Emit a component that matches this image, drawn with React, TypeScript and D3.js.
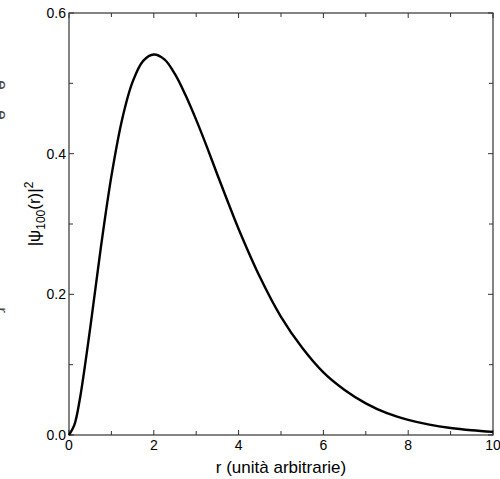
import * as d3 from 'd3';
import React, { useEffect, useRef } from 'react';

// valori
const rValues = [0, 0.125, 0.25, 0.5, 0.75, 1, 1.25, 1.5, 1.75, 2, 2.25, 2.5, 2.75, 3, 3.25, 3.5, 3.75, 4, 4.5, 5, 5.5, 6, 6.5, 7, 7.5, 8, 8.5, 9, 9.5, 10];
const psiValues = [0, 0.014, 0.049, 0.152, 0.266, 0.368, 0.448, 0.502, 0.532, 0.541, 0.534, 0.513, 0.483, 0.448, 0.41, 0.37, 0.331, 0.293, 0.225, 0.168, 0.124, 0.089, 0.064, 0.045, 0.031, 0.0215, 0.0147, 0.01, 0.0068, 0.0045];
const xTicks = [0, 2, 4, 6, 8, 10];
const yTicks = [0, 0.2, 0.4, 0.6];

export default function App() {
  const svgRef = useRef<SVGSVGElement>(null);
  const width = 500;
  const height = 479;
  const left = 69;
  const right = 493;
  const top = 13;
  const bottom = 435;

  useEffect(() => {
    const svg = d3.select(svgRef.current);
    svg.selectAll('*').remove();

    const x = d3.scaleLinear().domain([0, 10]).range([left, right]);
    const y = d3.scaleLinear().domain([0, 0.6]).range([bottom, top]);
    const font = 'Liberation Sans, Arial, Helvetica, sans-serif';
    const axisColor = '#333';

    // cornice
    svg
      .append('rect')
      .attr('x', left)
      .attr('y', top)
      .attr('width', right - left)
      .attr('height', bottom - top)
      .attr('fill', 'none')
      .attr('stroke', axisColor)
      .attr('stroke-width', 1.2);

    // tacche (interne, su tutti i lati)
    const g = svg.append('g').attr('stroke', axisColor).attr('stroke-width', 1);
    d3.range(0, 10.01, 1).forEach((v) => {
      const len = v % 2 === 0 ? 5 : 4;
      g.append('line').attr('x1', x(v)).attr('x2', x(v)).attr('y1', bottom).attr('y2', bottom - len);
      g.append('line').attr('x1', x(v)).attr('x2', x(v)).attr('y1', top).attr('y2', top + len);
    });
    d3.range(0, 0.601, 0.1).forEach((v, i) => {
      const len = i % 2 === 0 ? 5 : 4;
      g.append('line').attr('x1', left).attr('x2', left + len).attr('y1', y(v)).attr('y2', y(v));
      g.append('line').attr('x1', right).attr('x2', right - len).attr('y1', y(v)).attr('y2', y(v));
    });

    // etichette asse X
    svg
      .append('g')
      .selectAll('text')
      .data(xTicks)
      .enter()
      .append('text')
      .attr('x', (d) => x(d))
      .attr('y', bottom + 15)
      .attr('text-anchor', 'middle')
      .style('font-family', font)
      .style('font-size', '14px')
      .text((d) => d);

    // etichette asse Y
    svg
      .append('g')
      .selectAll('text')
      .data(yTicks)
      .enter()
      .append('text')
      .attr('x', left - 3)
      .attr('y', (d) => y(d) + 5)
      .attr('text-anchor', 'end')
      .style('font-family', font)
      .style('font-size', '14px')
      .text((d) => d.toFixed(1));

    // titoli assi
    svg
      .append('text')
      .attr('x', (left + right) / 2)
      .attr('y', 473)
      .attr('text-anchor', 'middle')
      .style('font-family', font)
      .style('font-size', '17px')
      .text('r (unità arbitrarie)');

    const yl = svg
      .append('text')
      .attr('transform', `translate(40, ${(top + bottom) / 2 - 10}) rotate(-90)`)
      .attr('text-anchor', 'middle')
      .style('font-family', font)
      .style('font-size', '17px');
    yl.append('tspan').text('|ψ');
    yl.append('tspan').attr('dy', 5).style('font-size', '12px').text('100');
    yl.append('tspan').attr('dy', -5).text('(r)|');
    yl.append('tspan').attr('dy', -7).style('font-size', '12px').text('2');

    // frammenti di testo tagliati a sinistra
    [85, 115, 310].forEach((py) => {
      svg
        .append('text')
        .attr('transform', `translate(-4, ${py}) rotate(90)`)
        .attr('text-anchor', 'middle')
        .style('font-family', font)
        .style('font-size', '17px')
        .attr('fill', '#444')
        .text(py === 310 ? 'r' : 'e');
    });

    // curva
    const line = d3
      .line<number>()
      .x((_, i) => x(rValues[i]))
      .y((d) => y(d))
      .curve(d3.curveCatmullRom.alpha(0.5));
    svg
      .append('path')
      .datum(psiValues)
      .attr('d', line)
      .attr('fill', 'none')
      .attr('stroke', '#000')
      .attr('stroke-width', 2.4);
  }, []);

  return (
    <svg
      ref={svgRef}
      width={width}
      height={height}
      style={{ position: 'absolute', left: 0, top: 0, background: '#fff' }}
    ></svg>
  );
}
